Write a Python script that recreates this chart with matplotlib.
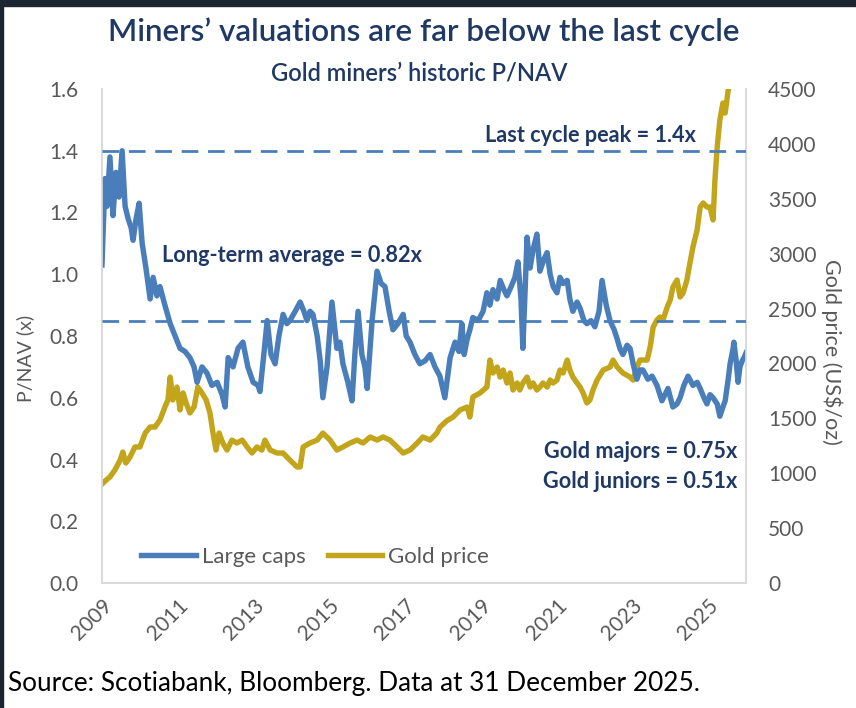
import matplotlib
matplotlib.use("Agg")
import matplotlib.pyplot as plt
from matplotlib.patches import Rectangle
from matplotlib.lines import Line2D

# ---------------- data ----------------
large_caps_year = [
    2009.00, 2009.05, 2009.08, 2009.13, 2009.21, 2009.29, 2009.37, 2009.45, 2009.53, 2009.61,
    2009.69, 2009.77, 2009.82, 2009.90, 2009.98, 2010.06, 2010.16, 2010.27, 2010.35, 2010.45,
    2010.53, 2010.66, 2010.80, 2010.93, 2011.06, 2011.19, 2011.32, 2011.43, 2011.51, 2011.64,
    2011.77, 2011.90, 2012.04, 2012.17, 2012.25, 2012.33, 2012.46, 2012.59, 2012.72, 2012.85,
    2012.99, 2013.12, 2013.17, 2013.28, 2013.36, 2013.46, 2013.57, 2013.67, 2013.78, 2013.88,
    2013.96, 2014.10, 2014.23, 2014.33, 2014.41, 2014.49, 2014.57, 2014.68, 2014.76, 2014.83,
    2014.94, 2015.07, 2015.20, 2015.28, 2015.36, 2015.49, 2015.60, 2015.68, 2015.76, 2015.86,
    2015.94, 2016.00, 2016.13, 2016.26, 2016.37, 2016.47, 2016.58, 2016.68, 2016.81, 2016.95,
    2017.03, 2017.13, 2017.26, 2017.39, 2017.53, 2017.66, 2017.79, 2017.92, 2018.05, 2018.19,
    2018.32, 2018.42, 2018.50, 2018.56, 2018.64, 2018.71, 2018.79, 2018.93, 2019.06, 2019.16,
    2019.24, 2019.32, 2019.43, 2019.51, 2019.61, 2019.69, 2019.80, 2019.90, 2019.98, 2020.06,
    2020.11, 2020.17, 2020.22, 2020.30, 2020.38, 2020.48, 2020.56, 2020.67, 2020.75, 2020.83,
    2020.91, 2021.01, 2021.09, 2021.17, 2021.28, 2021.35, 2021.43, 2021.54, 2021.62, 2021.72,
    2021.80, 2021.91, 2022.01, 2022.12, 2022.20, 2022.31, 2022.41, 2022.52, 2022.60, 2022.67,
    2022.75, 2022.86, 2022.94, 2023.02, 2023.12, 2023.20, 2023.28, 2023.41, 2023.52, 2023.65,
    2023.78, 2023.86, 2023.94, 2024.07, 2024.18, 2024.26, 2024.36, 2024.47, 2024.60, 2024.71,
    2024.79, 2024.89, 2024.97, 2025.05, 2025.13, 2025.24, 2025.31, 2025.39, 2025.45, 2025.53,
    2025.58, 2025.66, 2025.68, 2025.74, 2025.79, 2025.84, 2025.90, 2025.95, 2026.00,
]
large_caps_pnav = [
    1.03, 1.20, 1.31, 1.22, 1.38, 1.19, 1.33, 1.25, 1.40, 1.22,
    1.18, 1.15, 1.11, 1.18, 1.23, 1.10, 1.02, 0.92, 0.99, 0.93,
    0.96, 0.90, 0.84, 0.80, 0.76, 0.75, 0.73, 0.70, 0.65, 0.70,
    0.68, 0.64, 0.65, 0.61, 0.57, 0.73, 0.70, 0.76, 0.78, 0.70,
    0.65, 0.64, 0.62, 0.75, 0.85, 0.74, 0.71, 0.80, 0.87, 0.84,
    0.85, 0.88, 0.91, 0.88, 0.85, 0.88, 0.87, 0.80, 0.72, 0.60,
    0.70, 0.91, 0.76, 0.78, 0.71, 0.65, 0.59, 0.75, 0.88, 0.74,
    0.70, 0.63, 0.85, 1.01, 0.97, 0.96, 0.88, 0.82, 0.84, 0.87,
    0.80, 0.78, 0.74, 0.71, 0.72, 0.74, 0.70, 0.67, 0.60, 0.73,
    0.78, 0.75, 0.84, 0.74, 0.79, 0.82, 0.86, 0.85, 0.88, 0.94,
    0.90, 0.95, 0.92, 0.98, 0.95, 0.93, 0.96, 0.99, 1.04, 0.92,
    0.76, 0.95, 1.12, 1.02, 1.08, 1.13, 1.01, 1.05, 1.07, 1.00,
    0.96, 0.94, 0.99, 0.97, 0.98, 0.92, 0.88, 0.91, 0.89, 0.85,
    0.84, 0.85, 0.83, 0.88, 0.98, 0.90, 0.85, 0.82, 0.79, 0.76,
    0.74, 0.77, 0.76, 0.71, 0.66, 0.69, 0.69, 0.66, 0.67, 0.64,
    0.59, 0.61, 0.63, 0.57, 0.58, 0.60, 0.64, 0.67, 0.64, 0.65,
    0.63, 0.60, 0.58, 0.61, 0.60, 0.58, 0.54, 0.57, 0.59, 0.66,
    0.71, 0.76, 0.78, 0.72, 0.65, 0.70, 0.72, 0.73, 0.745,
]

gold_year = [
    2009.03, 2009.11, 2009.21, 2009.34, 2009.48, 2009.55, 2009.63, 2009.74, 2009.87, 2010.00,
    2010.14, 2010.27, 2010.40, 2010.53, 2010.66, 2010.74, 2010.80, 2010.87, 2010.98, 2011.06,
    2011.14, 2011.22, 2011.32, 2011.43, 2011.53, 2011.64, 2011.75, 2011.85, 2011.93, 2012.01,
    2012.09, 2012.19, 2012.30, 2012.43, 2012.56, 2012.70, 2012.83, 2012.96, 2013.09, 2013.22,
    2013.30, 2013.44, 2013.62, 2013.78, 2013.96, 2014.15, 2014.23, 2014.31, 2014.49, 2014.68,
    2014.83, 2015.02, 2015.20, 2015.36, 2015.55, 2015.73, 2015.89, 2016.08, 2016.26, 2016.42,
    2016.60, 2016.79, 2016.95, 2017.13, 2017.32, 2017.47, 2017.66, 2017.84, 2017.92, 2018.11,
    2018.27, 2018.45, 2018.64, 2018.71, 2018.79, 2018.98, 2019.16, 2019.24, 2019.32, 2019.43,
    2019.51, 2019.59, 2019.69, 2019.77, 2019.85, 2019.96, 2020.03, 2020.11, 2020.22, 2020.30,
    2020.38, 2020.48, 2020.56, 2020.64, 2020.75, 2020.83, 2020.91, 2021.01, 2021.09, 2021.17,
    2021.28, 2021.35, 2021.43, 2021.54, 2021.62, 2021.70, 2021.80, 2021.88, 2021.96, 2022.07,
    2022.23, 2022.41, 2022.49, 2022.60, 2022.75, 2022.94, 2023.02, 2023.12, 2023.20, 2023.39,
    2023.47, 2023.55, 2023.65, 2023.73, 2023.81, 2023.92, 2024.00, 2024.07, 2024.18, 2024.26,
    2024.34, 2024.44, 2024.52, 2024.60, 2024.71, 2024.79, 2024.87, 2024.97, 2025.05, 2025.13,
    2025.18, 2025.24, 2025.31, 2025.39, 2025.45, 2025.53, 2025.61,
]
gold_price = [
    911, 938, 966, 1029, 1120, 1193, 1093, 1148, 1239, 1239,
    1366, 1421, 1421, 1485, 1603, 1667, 1876, 1667, 1785, 1576,
    1731, 1640, 1549, 1603, 1785, 1731, 1667, 1549, 1366, 1211,
    1366, 1275, 1211, 1302, 1275, 1302, 1239, 1184, 1239, 1211,
    1302, 1211, 1184, 1184, 1120, 1057, 1057, 1239, 1275, 1302,
    1366, 1302, 1211, 1239, 1275, 1302, 1275, 1330, 1302, 1330,
    1302, 1239, 1184, 1211, 1275, 1330, 1302, 1366, 1420, 1480,
    1512, 1576, 1603, 1512, 1694, 1731, 1785, 2031, 1913, 1967,
    1876, 1940, 1822, 1913, 1758, 1822, 1758, 1822, 1876, 1785,
    1822, 1758, 1785, 1822, 1785, 1849, 1822, 1849, 1940, 1913,
    2031, 1940, 1876, 1822, 1785, 1731, 1640, 1667, 1758, 1849,
    1940, 1967, 2031, 1967, 1913, 1876, 1849, 1967, 2031, 2031,
    2150, 2332, 2396, 2423, 2396, 2514, 2578, 2696, 2760, 2605,
    2642, 2760, 2915, 3061, 3216, 3425, 3462, 3425, 3425, 3307,
    3671, 3972, 4217, 4372, 4281, 4490, 4600,
]

last_cycle_peak = 1.40
long_term_line = 0.85

x_ticks = [2009, 2011, 2013, 2015, 2017, 2019, 2021, 2023, 2025]
left_ticks = [0.0, 0.2, 0.4, 0.6, 0.8, 1.0, 1.2, 1.4, 1.6]
right_ticks = [0, 500, 1000, 1500, 2000, 2500, 3000, 3500, 4000, 4500]

title = "Miners\u2019 valuations are far below the last cycle"
subtitle = "Gold miners\u2019 historic P/NAV"
source = "Source: Scotiabank, Bloomberg. Data at 31 December 2025."

# ---------------- styling ----------------
BLUE = "#4a7ebb"
GOLD = "#c2a51b"
NAVY = "#1f3864"
GREY = "#595959"
SPINE = "#d9d9d9"
FONT = "Lato"

plt.rcParams["font.family"] = [FONT, "DejaVu Sans"]

fig = plt.figure(figsize=(8.56, 7.08), dpi=100)
fig.patch.set_facecolor("white")

ax = fig.add_axes([102/856, 1-583/708, 644/856, 494/708])
ax2 = ax.twinx()
ax.set_zorder(ax2.get_zorder() + 1)
ax.patch.set_visible(False)

ax2.plot(gold_year, gold_price, color=GOLD, lw=3.9, solid_joinstyle="round",
         label="Gold price")
ax.plot(large_caps_year, large_caps_pnav, color=BLUE, lw=3.9, solid_joinstyle="round",
        label="Large caps")
for yv in (last_cycle_peak, long_term_line):
    ax.axhline(yv, color=BLUE, lw=2.0, dashes=(6, 3.5), zorder=5)

ax.set_xlim(2009, 2026)
ax.set_ylim(0, 1.6)
ax2.set_ylim(0, 4500)

TICK_FS = 15
ax.set_xticks(x_ticks)
ax.set_xticklabels([str(t) for t in x_ticks], rotation=45, ha="right", va="top",
                   rotation_mode="anchor", fontsize=TICK_FS, color=GREY)
ax.set_yticks(left_ticks)
ax.set_yticklabels([f"{t:.1f}" for t in left_ticks], fontsize=TICK_FS, color=GREY)
ax2.set_yticks(right_ticks)
ax2.set_yticklabels([str(t) for t in right_ticks], fontsize=TICK_FS, color=GREY)

ax.tick_params(axis="y", length=0, pad=17)
ax.tick_params(axis="x", length=0, pad=9)
ax2.tick_params(axis="y", length=0, pad=16)

for a in (ax, ax2):
    a.spines["top"].set_visible(False)
    for s in ("left", "right", "bottom"):
        a.spines[s].set_color(SPINE)
        a.spines[s].set_linewidth(1.2)

# axis titles
fig.text(25/856, 1-358/708, "P/NAV (x)", rotation=90, ha="center", va="center",
         fontsize=14, color=GREY)
fig.text(832/856, 1-352/708, "Gold price (US$/oz)", rotation=270, ha="center", va="center",
         fontsize=15.5, color=GREY)

# legend
handles = [Line2D([], [], color=BLUE, lw=3.9), Line2D([], [], color=GOLD, lw=3.9)]
leg = ax.legend(handles, ["Large caps", "Gold price"], ncol=2, frameon=False,
                loc="center", bbox_to_anchor=(0.331, 0.053), fontsize=16,
                handlelength=2.45, handletextpad=0.27, columnspacing=1.0)
for t in leg.get_texts():
    t.set_color(GREY)

# titles
fig.text(424/856, 1-32/708, title, ha="center", va="center", fontsize=22.6,
         color=NAVY, fontweight="semibold")
fig.text(419/856, 1-73/708, subtitle, ha="center", va="center", fontsize=17,
         color=NAVY, fontweight="semibold")

# annotations
ann = dict(color=NAVY, fontweight="bold", fontsize=15.6)
fig.text(590/856, 1-135/708, "Last cycle peak = 1.4x", ha="center", va="center", **ann)
fig.text(292/856, 1-256/708, "Long-term average = 0.82x", ha="center", va="center", **ann)
fig.text(737/856, 1-452/708, "Gold majors = 0.75x", ha="right", va="center", **ann)
fig.text(737/856, 1-482/708, "Gold juniors = 0.51x", ha="right", va="center", **ann)

# source
fig.text(8/856, 1-683/708, source, ha="left", va="center", fontsize=18.8, color="black")

# dark frame edges of the screenshot
fig.patches.append(Rectangle((0, 1-6/708), 1, 6/708, transform=fig.transFigure,
                             color="#1b2631", zorder=10))
fig.patches.append(Rectangle((0, 0), 3/856, 1, transform=fig.transFigure,
                             color="#1b2631", zorder=10))

fig.savefig("out.png", dpi=100)
